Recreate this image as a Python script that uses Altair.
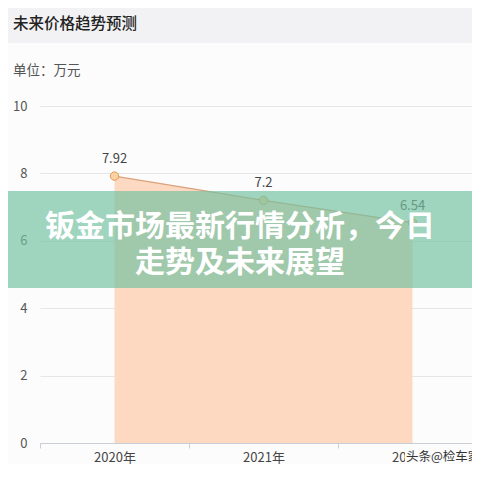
import altair as alt
import pandas as pd

years = [2020, 2021, 2022]
values = [7.92, 7.2, 6.54]
value_labels = ["7.92", "7.2", "6.54"]
y_ticks = [0, 2, 4, 6, 8, 10]
x_tick_bounds = [2019.5, 2020.5, 2021.5]

title_text = "未来价格趋势预测"
unit_text = "单位：万元"
banner_line1 = "钣金市场最新行情分析，今日"
banner_line2 = "走势及未来展望"
watermark = "头条@检车家"

FONT = "Noto Sans CJK SC"

W = 432   # plot width (page x 40 .. 472)
H = 337   # plot height (page y 106 .. 443)
STEP = 149

df = pd.DataFrame({"year": years, "value": values, "label": value_labels})
one = pd.DataFrame({"k": [0]})

x_scale = alt.Scale(domain=[2019.5, 2019.5 + W / STEP], nice=False, zero=False)
y_scale = alt.Scale(domain=[0, 10], nice=False)

x_enc = alt.X(
    "year:Q",
    scale=x_scale,
    axis=alt.Axis(
        values=x_tick_bounds,
        labelExpr="format(datum.value + 0.5, 'd') + '年'",
        labelOffset=STEP / 2,
        grid=False,
        tickSize=5,
        tickColor="#c9ced6",
        domainColor="#c9ced6",
        labelPadding=3,
        labelColor="#444444",
        labelFontSize=13,
        labelFont=FONT,
        labelFlush=False,
        labelBound=False,
        labelOverlap=False,
        title=None,
    ),
)
y_enc = alt.Y(
    "value:Q",
    scale=y_scale,
    axis=alt.Axis(
        values=y_ticks,
        grid=True,
        gridColor="#e6e6e8",
        domain=False,
        ticks=False,
        labelPadding=13,
        labelColor="#555555",
        labelFontSize=13,
        labelFont=FONT,
        title=None,
    ),
)

base = alt.Chart(df)
area = base.mark_area(color="#fcd9c0", opacity=1).encode(x=x_enc, y=y_enc)
line = base.mark_line(color="#dba27c", strokeWidth=1.2).encode(x="year:Q", y="value:Q")
pts = base.mark_point(filled=True, fill="#fcd29e", stroke="#d99a5e", strokeWidth=1, size=70, opacity=1).encode(
    x="year:Q", y="value:Q"
)
lbls = base.mark_text(dy=-17, fontSize=13, color="#444444", font=FONT).encode(
    x="year:Q", y="value:Q", text="label:N"
)

dec = alt.Chart(one)
title_bar = dec.mark_rect(color="#f2f2f4").encode(
    x=alt.value(-32), x2=alt.value(W), y=alt.value(-98), y2=alt.value(-63)
)
title_mark = dec.mark_text(
    align="left", baseline="middle", fontSize=15.5, color="#222222", font=FONT, fontWeight=500
).encode(x=alt.value(-27), y=alt.value(-82), text=alt.value(title_text))
unit_mark = dec.mark_text(
    align="left", baseline="middle", fontSize=13.5, color="#555555", font=FONT
).encode(x=alt.value(-27), y=alt.value(-35), text=alt.value(unit_text))

banner = dec.mark_rect(color="#73c19f", opacity=0.68).encode(
    x=alt.value(-32), x2=alt.value(W), y=alt.value(85), y2=alt.value(182)
)
b1 = dec.mark_text(
    align="center", baseline="middle", fontSize=30, fontWeight="bold", color="white", font=FONT
).encode(x=alt.value(200), y=alt.value(121), text=alt.value(banner_line1))
b2 = dec.mark_text(
    align="center", baseline="middle", fontSize=30, fontWeight="bold", color="white", font=FONT
).encode(x=alt.value(200), y=alt.value(157), text=alt.value(banner_line2))

wm_bg = dec.mark_rect(color="#fcfcfd").encode(
    x=alt.value(365), x2=alt.value(W), y=alt.value(343), y2=alt.value(358)
)
wm = dec.mark_text(
    align="left", baseline="middle", fontSize=12.5, color="#333333", font=FONT
).encode(x=alt.value(366), y=alt.value(351), text=alt.value(watermark))

chart = (
    alt.layer(area, line, pts, lbls, title_bar, title_mark, unit_mark, banner, b1, b2, wm_bg, wm)
    .properties(
        width=W,
        height=H,
        padding={"left": 32, "top": 98, "right": 0, "bottom": 21},
        autosize=alt.AutoSizeParams(type="none"),
        background="#fcfcfd",
    )
    .configure_view(stroke=None)
)

chart.save("out.html", embed_options={"renderer": "svg", "actions": False})
